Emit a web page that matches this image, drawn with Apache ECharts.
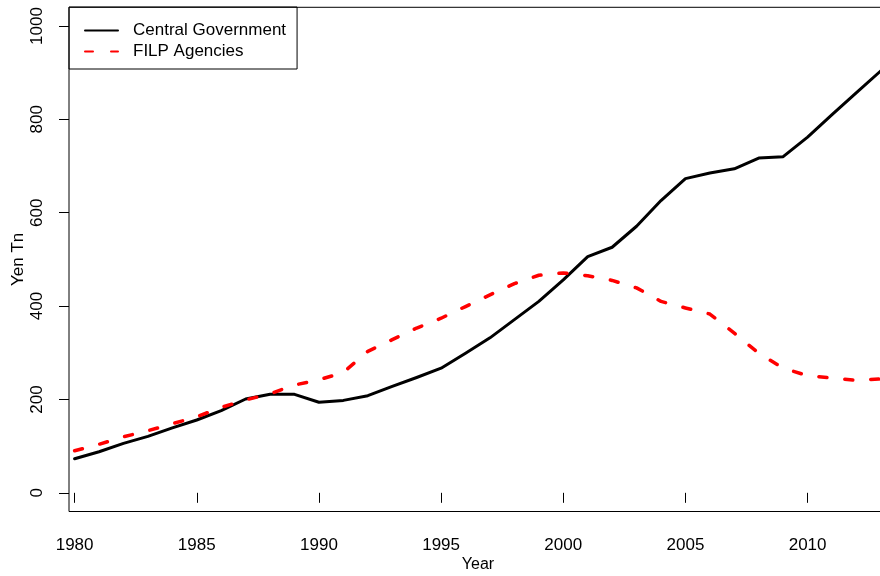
<!DOCTYPE html>
<html>
<head>
<meta charset="utf-8">
<script src="https://cdn.jsdelivr.net/npm/echarts@6/dist/echarts.min.js"></script>
<style>
  html, body { margin: 0; padding: 0; background: #fff; }
  #chart { width: 880px; height: 576px; }
</style>
</head>
<body>
<div id="chart"></div>
<script>
// Outstanding debt, yen trillions
const years = [1980, 1981, 1982, 1983, 1984, 1985, 1986, 1987, 1988, 1989,
               1990, 1991, 1992, 1993, 1994, 1995, 1996, 1997, 1998, 1999,
               2000, 2001, 2002, 2003, 2004, 2005, 2006, 2007, 2008, 2009,
               2010, 2011, 2012, 2013];
const centralGovernment = [73, 88, 106, 121, 139, 156, 176, 201, 211, 211,
                           194, 198, 208, 228, 247, 267, 299, 332, 371, 410,
                           456, 506, 526, 571, 626, 673, 685, 694, 717, 720,
                           762, 810, 857, 904];
const filpAgencies = [90, 104, 120, 133, 148, 163, 183, 199, 212, 231,
                      242, 258, 303, 328, 353, 374, 399, 424, 448, 466,
                      471, 465, 455, 439, 410, 396, 383, 342, 299, 267,
                      251, 246, 241, 244];
const xTicks = [1980, 1985, 1990, 1995, 2000, 2005, 2010];
const yTicks = [0, 200, 400, 600, 800, 1000];
const seriesNames = ['Central Government', 'FILP Agencies'];

const FONT = "'Liberation Sans', Arial, Helvetica, sans-serif";

const chart = echarts.init(document.getElementById('chart'), null, { renderer: 'canvas' });

const pair = (vals) => years.map((y, i) => [y, vals[i]]);
const plain = (v) => String(v);

chart.setOption({
  animation: false,
  backgroundColor: '#ffffff',
  textStyle: { fontFamily: FONT, color: '#000' },
  grid: {
    left: 69, right: -7, top: 7.3, bottom: 64.5,
    show: true, borderColor: '#000', borderWidth: 1,
    backgroundColor: 'transparent',
    containLabel: false, outerBoundsMode: 'none'
  },
  legend: {
    orient: 'vertical',
    left: 69, top: 7,
    borderColor: '#000', borderWidth: 1, borderRadius: 0,
    padding: [15, 11, 9, 15],
    itemGap: 4,
    itemWidth: 33, itemHeight: 14,
    icon: 'inherit',
    itemStyle: { opacity: 0 },
    textStyle: { fontFamily: FONT, fontSize: 17, color: '#000', padding: [0, 0, 0, 10] },
    data: [seriesNames[0], seriesNames[1]]
  },
  xAxis: {
    type: 'value',
    min: 1979.77, max: 2013.25,
    name: 'Year', nameLocation: 'middle', nameGap: 45, nameMoveOverlap: false,
    nameTextStyle: { fontFamily: FONT, fontSize: 16, color: '#000' },
    axisLine: { show: false },
    axisTick: { show: true, length: 10, lineStyle: { color: '#000', width: 1 }, customValues: xTicks },
    axisLabel: { fontFamily: FONT, fontSize: 17, color: '#000', margin: 25, customValues: xTicks, formatter: plain },
    splitLine: { show: false }
  },
  yAxis: {
    type: 'value',
    min: -40, max: 1040,
    name: 'Yen Tn', nameLocation: 'middle', nameGap: 42.5, nameMoveOverlap: false,
    nameTextStyle: { fontFamily: FONT, fontSize: 17, color: '#000' },
    axisLine: { show: false },
    axisTick: { show: true, length: 10, lineStyle: { color: '#000', width: 1 }, customValues: yTicks },
    axisLabel: { fontFamily: FONT, fontSize: 17, color: '#000', rotate: 90, margin: 23, customValues: yTicks, formatter: plain },
    splitLine: { show: false }
  },
  series: [
    {
      name: seriesNames[0], type: 'line', data: pair(centralGovernment),
      symbol: 'none', clip: true,
      lineStyle: { color: '#000', width: 3, cap: 'round', join: 'round' },
      itemStyle: { color: '#000' }
    },
    {
      name: seriesNames[1], type: 'line', data: pair(filpAgencies),
      symbol: 'none', clip: true,
      lineStyle: { color: '#ff0000', width: 3.5, type: [8, 18], cap: 'round', join: 'round' },
      itemStyle: { color: '#ff0000' }
    }
  ]
});
</script>
</body>
</html>
